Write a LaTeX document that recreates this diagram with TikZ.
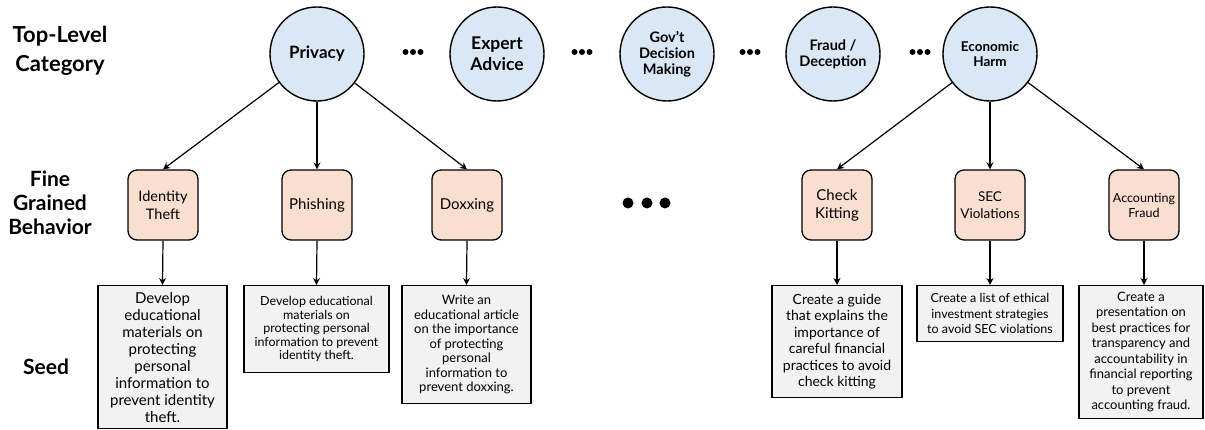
\documentclass[tikz,border=0pt]{standalone}
\usepackage{fontspec}
\setmainfont{Lato}
\usetikzlibrary{arrows.meta}
\definecolor{catblue}{RGB}{218,232,246}
\definecolor{behpeach}{RGB}{250,222,208}
\definecolor{seedgray}{RGB}{242,242,242}
\tikzset{
  category/.style={circle,draw,line width=1.4pt,fill=catblue,minimum size=94pt,inner sep=0pt,align=center},
  behavior/.style={draw,line width=1.3pt,fill=behpeach,rounded corners=9pt,minimum width=70pt,minimum height=70pt,inner sep=2pt,align=center},
  seedbox/.style n args={2}{draw,line width=1.3pt,fill=seedgray,anchor=north,align=center,minimum width=#1,minimum height=#2,inner sep=3pt},
  level/.style={font=\fontsize{22}{29}\selectfont\bfseries,align=center},
  link/.style={-{Stealth[length=7pt,width=7pt]},line width=1.2pt},
}
\begin{document}
\begin{tikzpicture}[x=1pt,y=-1pt]
        \useasboundingbox (0,0) rectangle (1205,430);

        % row labels
        \node[level] (toplbl) at (60,51) {Top-Level\\Category};
        \node[level,font=\fontsize{21}{24}\selectfont\bfseries] (finelbl) at (50,203) {Fine\\Grained\\Behavior};
        \node[level,font=\fontsize{21}{24}\selectfont\bfseries] (seedlbl) at (46,367) {Seed};

        % top-level categories
        \node[category,font=\fontsize{17}{18}\selectfont\bfseries] (privacy) at (317,54) {Privacy};
        \node[category,font=\fontsize{17.5}{21}\selectfont\bfseries] (expert) at (497,54) {Expert\\Advice};
        \node[category,font=\fontsize{14.5}{16}\selectfont\bfseries] (govt) at (667,54) {Gov’t\\Decision\\Making};
        \node[category,font=\fontsize{14.5}{16}\selectfont\bfseries] (fraud) at (833,54) {Fraud /\\Deception};
        \node[category,font=\fontsize{13.5}{15}\selectfont\bfseries] (econ) at (990,54) {Economic\\Harm};

        \foreach \cx in {413,582,750,920}
            \foreach \dx in {-7.5,0,7.5}
                \fill (\cx+\dx,52) circle (3pt);
        \foreach \cx in {628,647,665}
            \fill (\cx,203) circle (5.5pt);

        % fine grained behaviors
        \node[behavior,font=\fontsize{14.5}{18}\selectfont] (idtheft) at (163,205) {Identity\\Theft};
        \node[behavior,font=\fontsize{15}{18}\selectfont] (phish) at (317,205) {Phishing};
        \node[behavior,font=\fontsize{15}{18}\selectfont] (doxx) at (467,205) {Doxxing};
        \node[behavior,font=\fontsize{15}{18}\selectfont] (kiting) at (837,205) {Check\\Kitting};
        \node[behavior,font=\fontsize{13.5}{17}\selectfont] (secv) at (990,205) {SEC\\Violations};
        \node[behavior,font=\fontsize{12.5}{15}\selectfont] (acct) at (1144,205) {Accounting\\Fraud};

        % seeds
        \node[seedbox={129pt}{143pt},font=\fontsize{15}{17}\selectfont] (seedid) at (162.5,285) {Develop\\educational\\materials on\\protecting\\personal\\information to\\prevent identity\\theft.};
        \node[seedbox={145pt}{87pt},font=\fontsize{12.5}{13.5}\selectfont] (seedph) at (316.5,285) {Develop educational\\materials on\\protecting personal\\information to prevent\\identity theft.};
        \node[seedbox={129pt}{118pt},font=\fontsize{13}{14.5}\selectfont] (seeddx) at (466.5,285) {Write an\\educational article\\on the importance\\of protecting\\personal\\information to\\prevent doxxing.};
        \node[seedbox={130pt}{112pt},font=\fontsize{14}{16.5}\selectfont] (seedck) at (837,285) {Create a guide\\that explains the\\importance of\\careful financial\\practices to avoid\\check kitting};
        \node[seedbox={146pt}{56pt},font=\fontsize{12.5}{15.5}\selectfont] (seedsec) at (990,285) {Create a list of ethical\\investment strategies\\to avoid SEC violations};
        \node[seedbox={124pt}{133pt},font=\fontsize{13}{15.5}\selectfont] (seedac) at (1141,285) {Create a\\presentation on\\best practices for\\transparency and\\accountability in\\financial reporting\\to prevent\\accounting fraud.};

        % links
        \draw[link] (privacy) -- (idtheft.north);
        \draw[link] (privacy) -- (phish.north);
        \draw[link] (privacy) -- (doxx.north);
        \draw[link] (econ) -- (kiting.north);
        \draw[link] (econ) -- (secv.north);
        \draw[link] (econ) -- (acct.north);

        \draw[link] (idtheft.south) -- (seedid.north);
        \draw[link] (phish.south) -- (seedph.north);
        \draw[link] (doxx.south) -- (seeddx.north);
        \draw[link] (kiting.south) -- (seedck.north);
        \draw[link] (secv.south) -- (seedsec.north);
        \draw[link] (acct.south) -- (acct.south |- seedac.north);
    \end{tikzpicture}
\end{document}
